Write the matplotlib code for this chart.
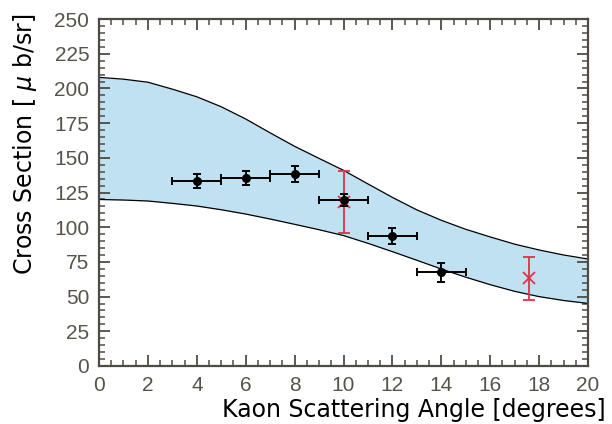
import matplotlib
matplotlib.use('Agg')
import matplotlib.pyplot as plt
from matplotlib.ticker import MultipleLocator

# theory band (upper / lower edge), sampled every degree
band_angle = [0, 1, 2, 3, 4, 5, 6, 7, 8, 9, 10,
              11, 12, 13, 14, 15, 16, 17, 18, 19, 20]
band_upper = [208.0, 206.7, 204.5, 199.5, 194.0, 186.8, 178.0, 168.0, 158.3, 149.6, 141.0,
              131.2, 121.5, 112.5, 105.0, 98.5, 93.0, 87.8, 83.6, 80.0, 77.1]
band_lower = [120.0, 119.6, 118.9, 117.2, 115.3, 112.6, 109.5, 105.9, 102.1, 98.2, 94.0,
              88.4, 82.4, 76.2, 69.9, 64.0, 58.6, 53.8, 50.0, 47.2, 45.1]

# measured points
meas_angle = [4, 6, 8, 10, 12, 14]
meas_xs = [133.3, 135.2, 138.3, 119.6, 93.7, 67.5]
meas_yerr = [4.7, 5.0, 5.9, 4.5, 5.7, 6.9]
meas_xerr = [1, 1, 1, 1, 1, 1]

# other results
other_angle = [10, 17.6]
other_xs = [118.4, 63.4]
other_yerr = [22.3, 15.5]

axis_col = '#4f4b44'
tick_col = '#57534b'
red = '#e0304c'

fig = plt.figure(figsize=(6.12, 4.24), dpi=100)
ax = fig.add_axes([0.1618, 0.1368, 0.7990, 0.8182])

ax.fill_between(band_angle, band_lower, band_upper, color='#c0e1f2', lw=0)
ax.plot(band_angle, band_upper, color='black', lw=0.9)
ax.plot(band_angle, band_lower, color='black', lw=0.9)

ax.errorbar(other_angle, other_xs, yerr=other_yerr, fmt='x', color=red,
            ms=9, mew=1.3, elinewidth=1.3, capsize=4, capthick=1.3, zorder=3)
ax.errorbar(meas_angle, meas_xs, xerr=meas_xerr, yerr=meas_yerr, fmt='o', color='black',
            ms=5.5, elinewidth=1.4, capsize=3, capthick=1.4, zorder=4)

ax.set_xlim(0, 20)
ax.set_ylim(0, 250)
ax.xaxis.set_major_locator(MultipleLocator(2))
ax.xaxis.set_minor_locator(MultipleLocator(0.5))
ax.yaxis.set_major_locator(MultipleLocator(25))
ax.yaxis.set_minor_locator(MultipleLocator(5))

for s in ax.spines.values():
    s.set_color(axis_col)
    s.set_linewidth(1.6)
ax.tick_params(which='both', direction='in', top=True, right=True, color=axis_col,
               labelcolor=tick_col, labelsize=15)
ax.tick_params(which='major', length=8, width=1.3, pad=7)
ax.tick_params(which='minor', length=4, width=1.1)
for lab in ax.get_xticklabels() + ax.get_yticklabels():
    lab.set_family(['Liberation Sans', 'DejaVu Sans'])

fig.text(0.99, 0.004, 'Kaon Scattering Angle [degrees]', ha='right', va='bottom',
         fontsize=17, family='DejaVu Sans', color='black')
fig.text(0.018, 0.968, 'Cross Section [ $\\mu$ b/sr]', ha='left', va='top', rotation=90,
         fontsize=17, family='DejaVu Sans', color='black')

fig.savefig('out.png', dpi=100)
